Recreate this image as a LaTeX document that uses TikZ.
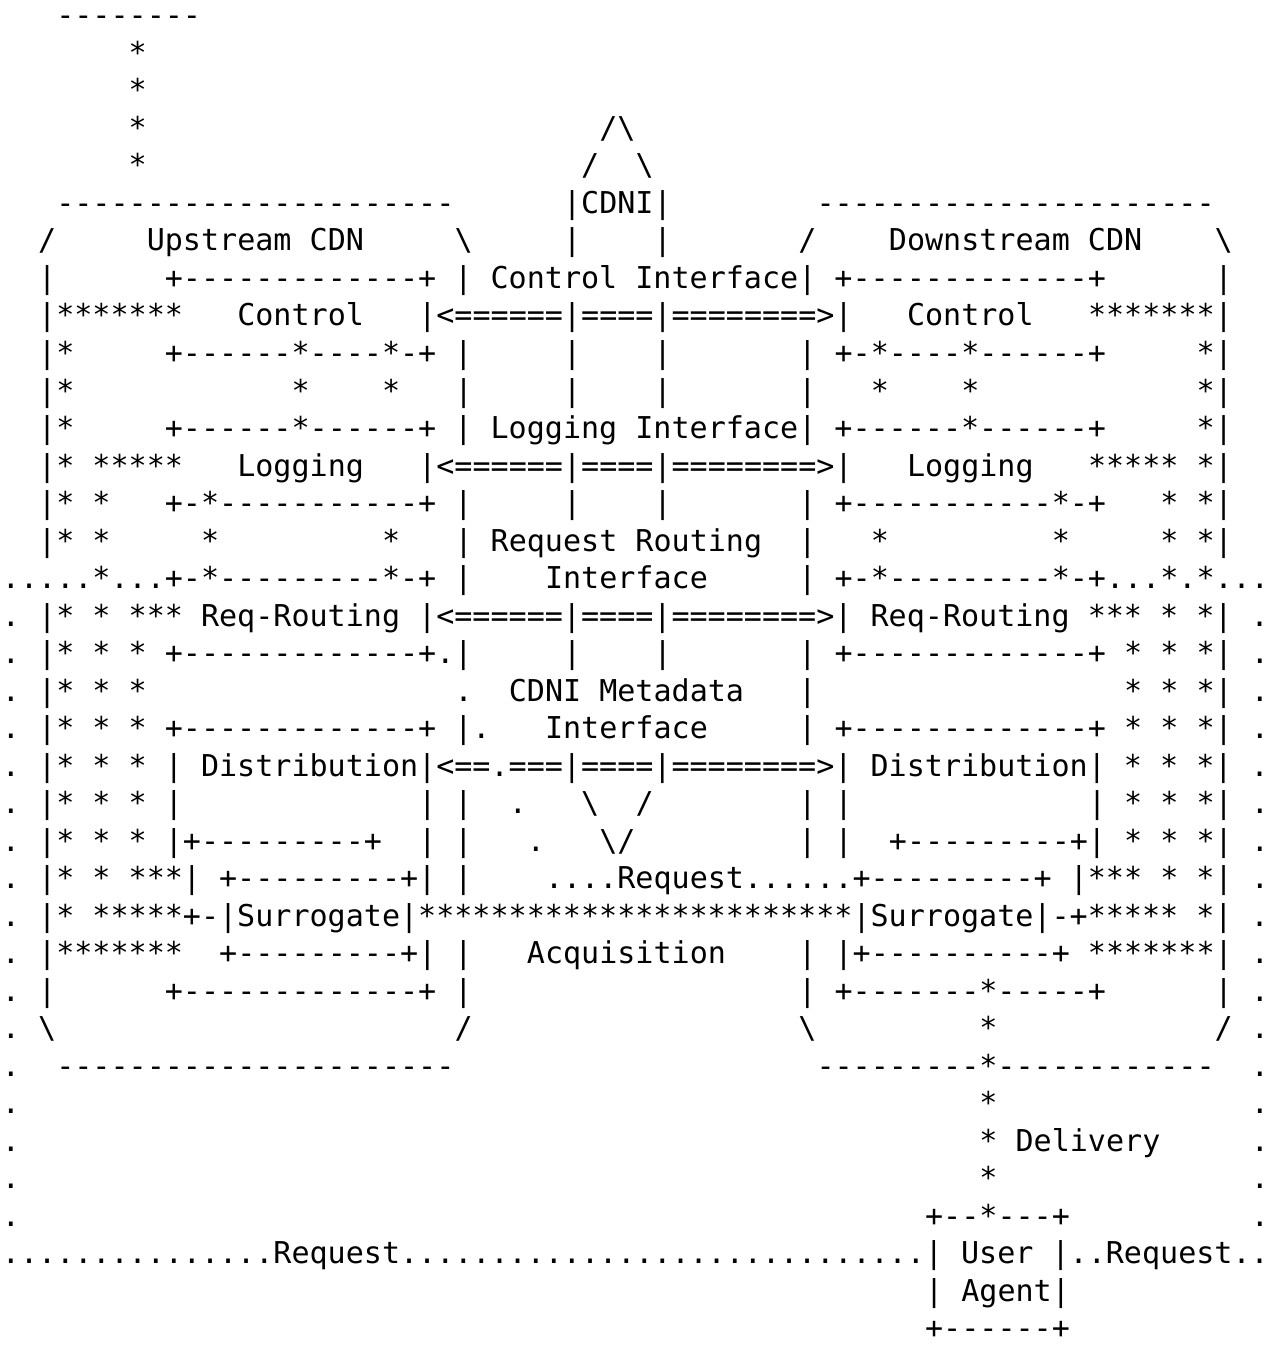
\documentclass[tikz,border=0pt]{standalone}
\usepackage{fontspec}
\setmonofont{DejaVu Sans Mono}
\usepackage{tikz}
\tikzset{
	ascii/.style={anchor=base west, inner sep=0pt, outer sep=0pt, text=black, font=\ttfamily\fontsize{15.03pt}{18.75pt}\selectfont}
}
\begin{document}
\begin{tikzpicture}[x=9.05pt,y=-18.75pt]
			\path[use as bounding box,fill=white] (0pt,0pt) rectangle (637pt,-673.5pt);
			\begin{scope}[xshift=1pt,yshift=-13pt]
			% content provider and upstream CDN
			\node[ascii] (r0a) at (3,0) {--------};
			\node[ascii] (r1a) at (7,1) {*};
			\node[ascii] (r2a) at (7,2) {*};
			\node[ascii] (r3a) at (7,3) {*};
			\node[ascii] (r3b) at (33,3) {/\textbackslash};
			\node[ascii] (r4a) at (7,4) {*};
			\node[ascii] (r4b) at (32,4) {/};
			\node[ascii] (r4c) at (35,4) {\textbackslash};
			\node[ascii] (r5a) at (3,5) {----------------------};
			\node[ascii] (r5b) at (31,5) {|CDNI|};
			\node[ascii] (r5c) at (45,5) {----------------------};
			\node[ascii] (r6a) at (2,6) {/};
			\node[ascii] (r6b) at (8,6) {Upstream CDN};
			\node[ascii] (r6c) at (25,6) {\textbackslash};
			\node[ascii] (r6d) at (31,6) {|};
			\node[ascii] (r6e) at (36,6) {|};
			\node[ascii] (r6f) at (44,6) {/};
			\node[ascii] (r6g) at (49,6) {Downstream CDN};
			\node[ascii] (r6h) at (67,6) {\textbackslash};
			% control
			\node[ascii] (r7a) at (2,7) {|};
			\node[ascii] (r7b) at (9,7) {+-------------+ | Control Interface| +-------------+};
			\node[ascii] (r7c) at (67,7) {|};
			\node[ascii] (r8a) at (2,8) {|*******};
			\node[ascii] (r8b) at (13,8) {Control};
			\node[ascii] (r8c) at (23,8) {|<======|====|========>|};
			\node[ascii] (r8d) at (50,8) {Control};
			\node[ascii] (r8e) at (60,8) {*******|};
			\node[ascii] (r9a) at (2,9) {|*};
			\node[ascii] (r9b) at (9,9) {+------*----*-+ |};
			\node[ascii] (r9c) at (31,9) {|};
			\node[ascii] (r9d) at (36,9) {|};
			\node[ascii] (r9e) at (44,9) {| +-*----*------+};
			\node[ascii] (r9f) at (66,9) {*|};
			\node[ascii] (r10a) at (2,10) {|*};
			\node[ascii] (r10b) at (16,10) {*};
			\node[ascii] (r10c) at (21,10) {*};
			\node[ascii] (r10d) at (25,10) {|};
			\node[ascii] (r10e) at (31,10) {|};
			\node[ascii] (r10f) at (36,10) {|};
			\node[ascii] (r10g) at (44,10) {|};
			\node[ascii] (r10h) at (48,10) {*};
			\node[ascii] (r10i) at (53,10) {*};
			\node[ascii] (r10j) at (66,10) {*|};
			% logging
			\node[ascii] (r11a) at (2,11) {|*};
			\node[ascii] (r11b) at (9,11) {+------*------+ | Logging Interface| +------*------+};
			\node[ascii] (r11c) at (66,11) {*|};
			\node[ascii] (r12a) at (2,12) {|* *****};
			\node[ascii] (r12b) at (13,12) {Logging};
			\node[ascii] (r12c) at (23,12) {|<======|====|========>|};
			\node[ascii] (r12d) at (50,12) {Logging};
			\node[ascii] (r12e) at (60,12) {***** *|};
			\node[ascii] (r13a) at (2,13) {|* *};
			\node[ascii] (r13b) at (9,13) {+-*-----------+ |};
			\node[ascii] (r13c) at (31,13) {|};
			\node[ascii] (r13d) at (36,13) {|};
			\node[ascii] (r13e) at (44,13) {| +-----------*-+};
			\node[ascii] (r13f) at (64,13) {* *|};
			\node[ascii] (r14a) at (2,14) {|* *};
			\node[ascii] (r14b) at (11,14) {*};
			\node[ascii] (r14c) at (21,14) {*};
			\node[ascii] (r14d) at (25,14) {| Request Routing};
			\node[ascii] (r14e) at (44,14) {|};
			\node[ascii] (r14f) at (48,14) {*};
			\node[ascii] (r14g) at (58,14) {*};
			\node[ascii] (r14h) at (64,14) {* *|};
			% request routing
			\node[ascii] (r15a) at (0,15) {.....*...+-*---------*-+ |};
			\node[ascii] (r15b) at (30,15) {Interface};
			\node[ascii] (r15c) at (44,15) {| +-*---------*-+...*.*...};
			\node[ascii] (r16a) at (0,16) {. |* * *** Req-Routing |<======|====|========>| Req-Routing *** * *| .};
			\node[ascii] (r17a) at (0,17) {. |* * * +-------------+.|};
			\node[ascii] (r17b) at (31,17) {|};
			\node[ascii] (r17c) at (36,17) {|};
			\node[ascii] (r17d) at (44,17) {| +-------------+ * * *| .};
			% metadata
			\node[ascii] (r18a) at (0,18) {. |* * *};
			\node[ascii] (r18b) at (25,18) {.};
			\node[ascii] (r18c) at (28,18) {CDNI Metadata};
			\node[ascii] (r18d) at (44,18) {|};
			\node[ascii] (r18e) at (62,18) {* * *| .};
			\node[ascii] (r19a) at (0,19) {. |* * * +-------------+ |.};
			\node[ascii] (r19b) at (30,19) {Interface};
			\node[ascii] (r19c) at (44,19) {| +-------------+ * * *| .};
			\node[ascii] (r20a) at (0,20) {. |* * * | Distribution|<==.===|====|========>| Distribution| * * *| .};
			\node[ascii] (r21a) at (0,21) {. |* * * |};
			\node[ascii] (r21b) at (23,21) {| |};
			\node[ascii] (r21c) at (28,21) {.};
			\node[ascii] (r21d) at (32,21) {\textbackslash};
			\node[ascii] (r21e) at (35,21) {/};
			\node[ascii] (r21f) at (44,21) {| |};
			\node[ascii] (r21g) at (60,21) {| * * *| .};
			\node[ascii] (r22a) at (0,22) {. |* * * |+---------+};
			\node[ascii] (r22b) at (23,22) {| |};
			\node[ascii] (r22c) at (29,22) {.};
			\node[ascii] (r22d) at (33,22) {\textbackslash/};
			\node[ascii] (r22e) at (44,22) {| |};
			\node[ascii] (r22f) at (49,22) {+---------+| * * *| .};
			% surrogates and acquisition
			\node[ascii] (r23a) at (0,23) {. |* * ***| +---------+| |};
			\node[ascii] (r23b) at (30,23) {....Request......+---------+ |*** * *| .};
			\node[ascii] (r24a) at (0,24) {. |* *****+-|Surrogate|************************|Surrogate|-+***** *| .};
			\node[ascii] (r25a) at (0,25) {. |*******};
			\node[ascii] (r25b) at (12,25) {+---------+| |};
			\node[ascii] (r25c) at (29,25) {Acquisition};
			\node[ascii] (r25d) at (44,25) {| |+----------+ *******| .};
			\node[ascii] (r26a) at (0,26) {. |};
			\node[ascii] (r26b) at (9,26) {+-------------+ |};
			\node[ascii] (r26c) at (44,26) {| +-------*-----+};
			\node[ascii] (r26d) at (67,26) {| .};
			\node[ascii] (r27a) at (0,27) {. \textbackslash};
			\node[ascii] (r27b) at (25,27) {/};
			\node[ascii] (r27c) at (44,27) {\textbackslash};
			\node[ascii] (r27d) at (54,27) {*};
			\node[ascii] (r27e) at (67,27) {/ .};
			\node[ascii] (r28a) at (0,28) {.};
			\node[ascii] (r28b) at (3,28) {----------------------};
			\node[ascii] (r28c) at (45,28) {---------*------------};
			\node[ascii] (r28d) at (69,28) {.};
			% delivery to the user agent
			\node[ascii] (r29a) at (0,29) {.};
			\node[ascii] (r29b) at (54,29) {*};
			\node[ascii] (r29c) at (69,29) {.};
			\node[ascii] (r30a) at (0,30) {.};
			\node[ascii] (r30b) at (54,30) {* Delivery};
			\node[ascii] (r30c) at (69,30) {.};
			\node[ascii] (r31a) at (0,31) {.};
			\node[ascii] (r31b) at (54,31) {*};
			\node[ascii] (r31c) at (69,31) {.};
			\node[ascii] (r32a) at (0,32) {.};
			\node[ascii] (r32b) at (51,32) {+--*---+};
			\node[ascii] (r32c) at (69,32) {.};
			\node[ascii] (r33a) at (0,33) {...............Request.............................| User |..Request..};
			\node[ascii] (r34a) at (51,34) {| Agent|};
			\node[ascii] (r35a) at (51,35) {+------+};
			\end{scope}
		\end{tikzpicture}
\end{document}
